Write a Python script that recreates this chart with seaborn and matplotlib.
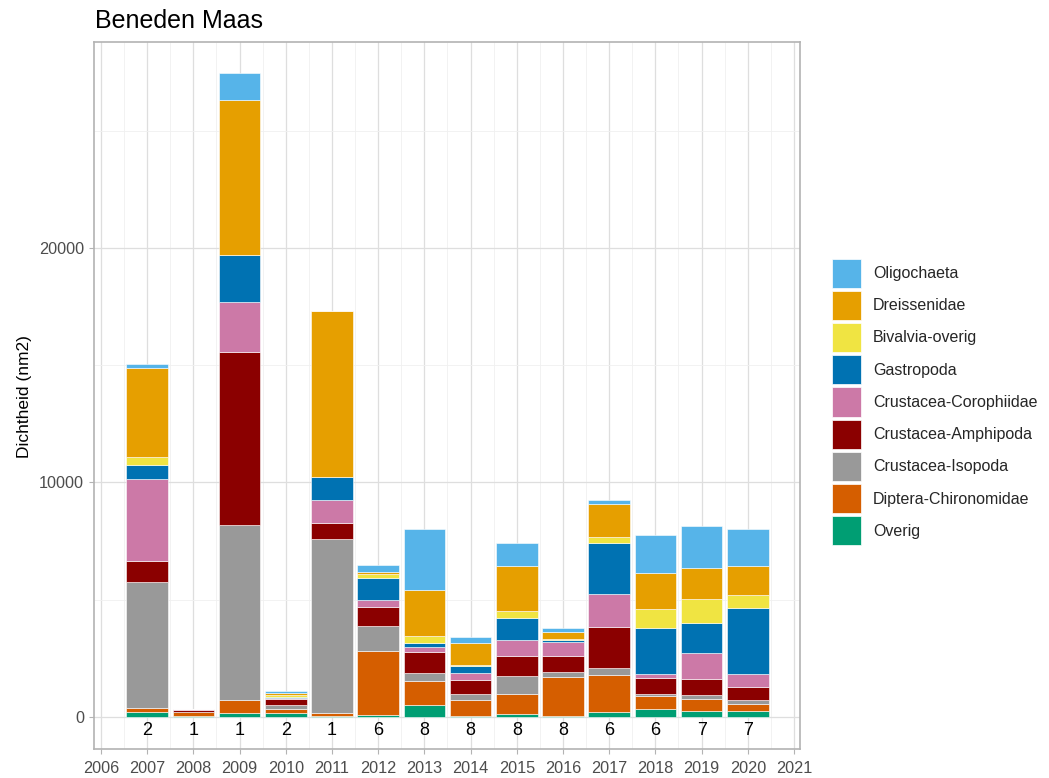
import numpy as np
import pandas as pd
import matplotlib.pyplot as plt
import seaborn as sns
from matplotlib.patches import Patch
from matplotlib.ticker import MultipleLocator

# =========================
# DATA
# =========================
years = list(range(2007, 2021))
n_samples = [2, 1, 1, 2, 1, 6, 8, 8, 8, 8, 6, 6, 7, 7]

overig       = [200, 55, 185, 155, 45, 100, 510, 45, 115, 45, 200, 355, 255, 270]
diptera      = [200, 170, 555, 170, 130, 2730, 1040, 670, 865, 1665, 1605, 540, 500, 285]
isopoda      = [5370, 0, 7460, 200, 7420, 1065, 330, 255, 755, 200, 270, 100, 200, 155]
amphipoda    = [895, 70, 7365, 230, 680, 810, 880, 610, 880, 680, 1775, 670, 680, 585]
corophiidae  = [3470, 55, 2130, 45, 980, 285, 215, 285, 655, 600, 1380, 185, 1095, 555]
gastropoda   = [625, 0, 1990, 40, 980, 925, 170, 310, 950, 100, 2200, 1960, 1280, 2800]
bivalvia     = [330, 0, 30, 85, 0, 170, 310, 45, 300, 30, 240, 795, 1035, 555]
dreissenidae = [3810, 0, 6595, 85, 7065, 115, 1960, 950, 1905, 285, 1395, 1550, 1320, 1220]
oligochaeta  = [155, 0, 1150, 85, 20, 270, 2600, 230, 1010, 185, 185, 1620, 1790, 1590]

groups = ['Oligochaeta', 'Dreissenidae', 'Bivalvia-overig', 'Gastropoda',
          'Crustacea-Corophiidae', 'Crustacea-Amphipoda', 'Crustacea-Isopoda',
          'Diptera-Chironomidae', 'Overig']
colors = ['#56B4E9', '#E69F00', '#F0E442', '#0072B2', '#CC79A7',
          '#8B0000', '#999999', '#D55E00', '#009E73']

series = dict(zip(groups, [oligochaeta, dreissenidae, bivalvia, gastropoda,
                           corophiidae, amphipoda, isopoda, diptera, overig]))

df = pd.DataFrame([(y, g, v) for g, vals in series.items() for y, v in zip(years, vals)],
                  columns=['jaar', 'groep', 'dichtheid'])

# =========================
# PLOT
# =========================
sns.set_theme(style='white')
plt.rcParams['font.family'] = ['Liberation Sans', 'DejaVu Sans']

W, H = 1049, 778
fig = plt.figure(figsize=(W / 100, H / 100), dpi=100)
ax = fig.add_axes([94 / W, 1 - 749 / H, (800 - 94) / W, (749 - 42) / H])

# first hue level ends on top of the stack
sns.histplot(data=df, x='jaar', weights='dichtheid', hue='groep', hue_order=groups,
             palette=dict(zip(groups, colors)), multiple='stack', discrete=True,
             shrink=0.9, alpha=1, edgecolor='white', linewidth=0.4,
             legend=False, ax=ax)

# number of samples under each bar
for y, n in zip(years, n_samples):
    ax.text(y, -560, str(n), ha='center', va='center', fontsize=13, color='black')

ax.set_xlim(2005.85, 2021.13)
ax.set_ylim(-1365, 28780)
ax.set_xticks(range(2006, 2022))
ax.set_yticks([0, 10000, 20000])
ax.xaxis.set_minor_locator(MultipleLocator(0.5))
ax.yaxis.set_minor_locator(MultipleLocator(5000))

ax.set_axisbelow(True)
ax.grid(which='major', color='#DEDEDE', linewidth=0.9)
ax.grid(which='minor', color='#F0F0F0', linewidth=0.6)
for s in ax.spines.values():
    s.set_visible(True)
    s.set_color('#B3B3B3')
    s.set_linewidth(1.2)

ax.tick_params(axis='both', which='major', length=3.6, width=0.8, color='#B3B3B3',
               labelcolor='#4D4D4D', labelsize=11.7, pad=3.6, bottom=True, left=True)
ax.tick_params(axis='x', which='major', pad=5)
ax.tick_params(axis='both', which='minor', length=0)
ax.set_xlabel('')
ax.set_ylabel('')

fig.text(25 / W, 0.49, 'Dichtheid (nm2)', rotation=90, ha='center', va='center',
         fontsize=12.5, color='black')
fig.text(95 / W, 1 - 28 / H, 'Beneden Maas', ha='left', va='baseline',
         fontsize=18, color='black')

handles = [Patch(facecolor=c, edgecolor='white', linewidth=0.5) for c in colors]
fig.legend(handles, groups, loc='center left', bbox_to_anchor=(832 / W, 1 - 402 / H),
           bbox_transform=fig.transFigure, frameon=False, fontsize=11.5,
           handlelength=1.82, handleheight=2.42, labelspacing=0.2, handletextpad=0.75,
           borderpad=0, borderaxespad=0)

plt.savefig('out.png', dpi=100)
plt.close()
